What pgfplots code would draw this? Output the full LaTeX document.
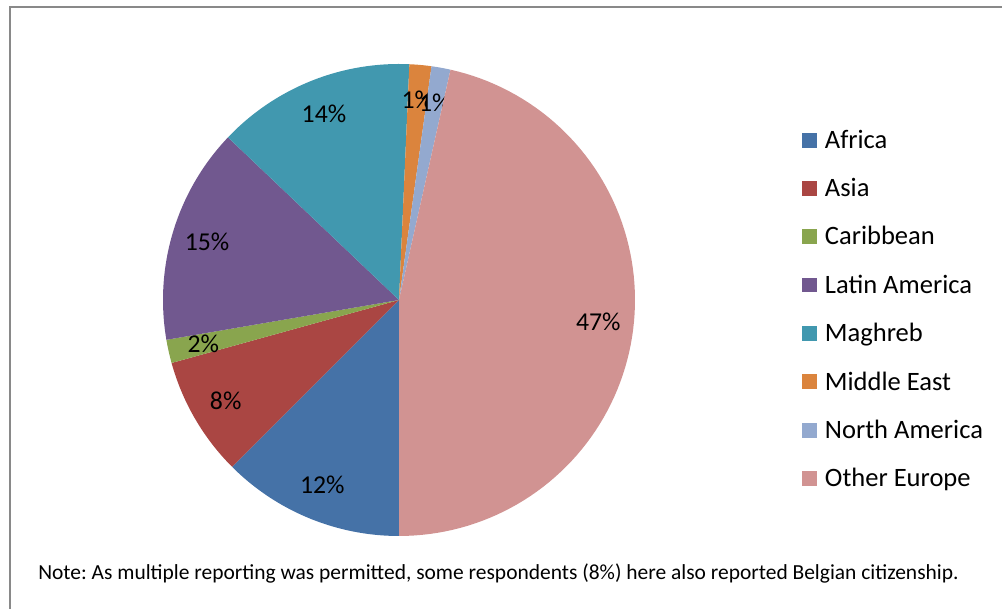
\documentclass[border=0pt]{standalone}
\usepackage{pgfplots}
\usepackage{pgfplotstable}
\pgfplotsset{compat=1.18}
\usepackage{fontspec}
\setmainfont{Carlito}
\frenchspacing

\definecolor{c0}{HTML}{4572A7}
\definecolor{c1}{HTML}{AA4643}
\definecolor{c2}{HTML}{89A54E}
\definecolor{c3}{HTML}{71588F}
\definecolor{c4}{HTML}{4198AF}
\definecolor{c5}{HTML}{DB843D}
\definecolor{c6}{HTML}{93A9CF}
\definecolor{c7}{HTML}{D19392}
\definecolor{framegray}{HTML}{898989}

\pgfplotstableread[col sep=comma]{
region,pct,label
Africa,12.5,12
Asia,8.2,8
Caribbean,1.6,2
Latin America,14.8,15
Maghreb,13.6,14
Middle East,1.5,1
North America,1.3,1
Other Europe,46.5,47
}\piedata

\newcommand\labfont{\fontsize{19.3}{23}\selectfont}

\begin{document}
\begin{tikzpicture}
\useasboundingbox (0,0) rectangle (751.5pt,456.75pt);
\begin{axis}[
  scale only axis, width=751.5pt, height=456.75pt,
  xmin=0, xmax=1002, ymin=0, ymax=609,
  hide axis, clip=false,
  legend cell align=left,
  legend image code/.code={\fill[#1] (0pt,-5.6pt) rectangle (11.2pt,5.6pt);},
  legend style={draw=none, fill=none, at={(axis cs:802,482)}, anchor=north west,
    font=\fontsize{19.9}{24}\selectfont, row sep=17.0pt, inner sep=0pt,
    /tikz/every odd column/.append style={column sep=3.8pt}},
]
\draw[framegray, line width=1.5pt] (axis cs:10,0) -- (axis cs:10,602) -- (axis cs:1002,602);
\def\astart{270}
\pgfplotsforeachungrouped \i in {0,...,7}{%
  \pgfplotstablegetelem{\i}{pct}\of\piedata \let\pct\pgfplotsretval
  \pgfplotstablegetelem{\i}{label}\of\piedata \let\lab\pgfplotsretval
  \pgfplotstablegetelem{\i}{region}\of\piedata \let\reg\pgfplotsretval
  \pgfmathsetmacro\aend{\astart-3.6*\pct}%
  \pgfmathsetmacro\amid{(\astart+\aend)/2}%
  \pgfmathsetmacro\lx{399+0.85*236*cos(\amid)}%
  \pgfmathsetmacro\ly{309+0.85*236*sin(\amid)}%
  \edef\tmp{%
    \noexpand\addplot[fill=c\i, draw=none, domain=\aend:\astart, samples=90]
      ({399+236*cos(x)},{309+236*sin(x)}) -- (axis cs:399,309) -- cycle;
    \noexpand\addlegendentry{\reg}
    \noexpand\node[font=\noexpand\labfont, inner sep=0pt] at (axis cs:\lx,\ly) {\lab\noexpand\%};
  }%
  \tmp
  \global\let\astart\aend
}
\node[anchor=west, font=\fontsize{16.1}{19}\selectfont, inner sep=0pt] at (axis cs:38,36)
  {Note: As multiple reporting was permitted, some respondents (8\%) here also reported Belgian citizenship.};
\end{axis}
\end{tikzpicture}
\end{document}
